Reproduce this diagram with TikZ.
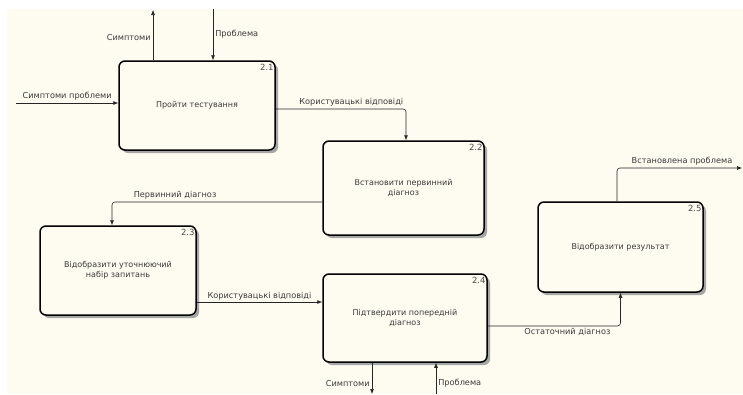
\documentclass[tikz,border=0pt]{standalone}
\usepackage{fontspec}
\setmainfont{DejaVu Sans}
\usepackage{tikz}
\usetikzlibrary{positioning, arrows.meta, shadows}
\definecolor{paper}{HTML}{FEFBF1}
\definecolor{ink}{HTML}{3A3A3A}

\begin{document}
\begin{tikzpicture}[x=1pt, y=-1pt, font=\fontsize{8}{10}\selectfont, text=ink]
    \tikzstyle{activity} = [rectangle, rounded corners=6pt,
draw=black,
line width=1.5pt,
fill=paper,
align=center,
drop shadow={shadow xshift=3pt, shadow yshift=-3pt, fill=black!35, opacity=1}]

\tikzstyle{number} = [anchor=north east, inner xsep=2pt, inner ysep=3.5pt, text=black!70, font=\fontsize{8.5}{10}\selectfont]
\tikzstyle{arrow} = [line width=0.6pt, draw=black!85, ->, >={Latex[length=5pt,width=4pt]}, rounded corners=3pt]
\tikzstyle{flowlabel} = [inner sep=2pt, font=\fontsize{8.2}{9}\selectfont]

% background
\fill[white] (0,0) rectangle (743,394);
\fill[paper] (7,9) rectangle (743,394);
\useasboundingbox (0,0) rectangle (743,394);

\node (test) [activity, minimum width=156pt, minimum height=89pt,
  label={[number]north east:2.1}] at (197,105.5) {Пройти тестування};
\node (prime) [activity, minimum width=161pt, minimum height=94pt,
  label={[number]north east:2.2}] at (403.5,188) {Встановити первинний\\діагноз};
\node (clarify) [activity, minimum width=156pt, minimum height=89pt,
  label={[number]north east:2.3}] at (118,270.5) {Відобразити уточнюючий\\набір запитань};
\node (confirm) [activity, minimum width=164pt, minimum height=88pt,
  label={[number]north east:2.4}] at (405,318) {Підтвердити попередній\\діагноз};
\node (found) [activity, minimum width=165pt, minimum height=90pt,
  label={[number]north east:2.5}] at (620.5,247) {Відобразити результат};

\coordinate (symin) at (16,103);
\coordinate (symout) at (153,10);
\coordinate (probin) at (213,9);
\coordinate (result) at (742,168);
\coordinate (symout2) at (372,394);
\coordinate (probin2) at (436,394);

\draw [arrow] (symin) -- node[above, flowlabel] {Симптоми проблеми} (symin -| test.west);
\draw [arrow] (test.north -| symout) -- node[pos=0.45, left, flowlabel] {Симптоми} (symout);
\draw [arrow] (probin) -- node[right, flowlabel] {Проблема} (probin |- test.north);
\draw [arrow] ([yshift=-3.5pt]test.east) -| node[pos=0.29, above, flowlabel] {Користувацькі відповіді} ([xshift=2.5pt]prime.north);
\draw [arrow] ([yshift=-14pt]prime.west) -| node[pos=0.35, above, flowlabel] {Первинний діагноз} ([xshift=-6pt]clarify.north);
\draw [arrow] ([yshift=-31.5pt]clarify.east) -- node[above, flowlabel] {Користувацькі відповіді} ([yshift=-31.5pt]clarify.east -| confirm.west);
\draw [arrow] ([yshift=-8pt]confirm.east) -| node[pos=0.3, below, flowlabel] {Остаточний діагноз} (found.south);
\draw [arrow] ([xshift=-3.5pt]found.north) |- node[pos=0.76, above, flowlabel] {Встановлена проблема} (result);
\draw [arrow] (confirm.south -| symout2) -- node[pos=0.65, left, flowlabel] {Симптоми} (symout2);
\draw [arrow] (probin2) -- node[pos=0.35, right, flowlabel] {Проблема} (probin2 |- confirm.south);

\end{tikzpicture}
\end{document}
